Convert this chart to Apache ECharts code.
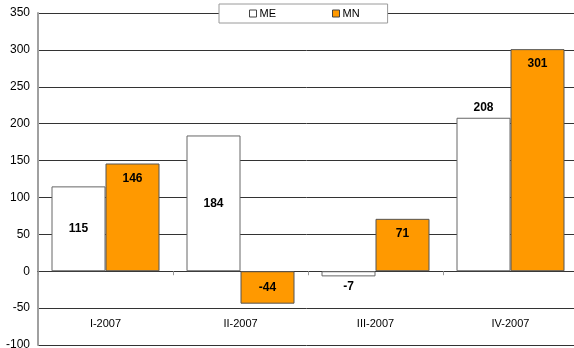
<!DOCTYPE html>
<html>
<head>
<meta charset="utf-8">
<script src="https://cdn.jsdelivr.net/npm/echarts@6/dist/echarts.min.js"></script>
<style>
  html, body { margin: 0; padding: 0; background: #fff; }
  #chart { width: 574px; height: 348px; }
</style>
</head>
<body>
<div id="chart"></div>
<script>
// Quarterly values for the two series
const categories = ['I-2007', 'II-2007', 'III-2007', 'IV-2007'];
const meValues = [115, 184, -7, 208];
const mnValues = [146, -44, 71, 301];
const yTicks = { min: -100, max: 350, step: 50 };

// Where each value label sits relative to its bar
const meLabelPos = ['inside', 'inside', 'bottom', 'top'];
const mnLabelPos = ['insideTop', 'inside', 'insideTop', 'insideTop'];

const font = '"Liberation Sans", Arial, sans-serif';

function toData(values, positions) {
  return values.map((v, i) => ({
    value: v,
    label: { position: positions[i], distance: positions[i] === 'insideTop' ? 9 : 4 }
  }));
}

const chart = echarts.init(document.getElementById('chart'), null, { renderer: 'canvas' });
chart.setOption({
  animation: false,
  backgroundColor: '#ffffff',
  textStyle: { fontFamily: font },
  legend: {
    left: 219,
    top: 4,
    padding: [4, 28, 4, 30],
    itemGap: 56,
    itemWidth: 7,
    itemHeight: 7,
    borderColor: '#9a9a9a',
    borderWidth: 1,
    backgroundColor: '#ffffff',
    textStyle: { fontFamily: font, fontSize: 11, color: '#000', padding: [0, 0, 0, -2] },
    data: [
      { name: 'ME', icon: 'rect', itemStyle: { color: '#ffffff', borderColor: '#444', borderWidth: 1 } },
      { name: 'MN', icon: 'rect', itemStyle: { color: '#ff9900', borderColor: '#444', borderWidth: 1 } }
    ]
  },
  grid: { left: 38, right: -4, top: 13, bottom: 3, containLabel: false, outerBoundsMode: 'none' },
  xAxis: [
    {
      // zero line with category ticks
      type: 'category',
      data: categories,
      axisLine: { onZero: true, lineStyle: { color: '#333', width: 1 } },
      axisTick: { show: true, length: 4, lineStyle: { color: '#999' } },
      axisLabel: { show: false },
      splitLine: { show: false }
    },
    {
      // category names set low, above the bottom edge
      type: 'category',
      data: categories,
      position: 'bottom',
      axisLine: { show: false, onZero: false },
      axisTick: { show: false },
      axisLabel: { inside: true, margin: 16, fontFamily: font, fontSize: 11, color: '#000' },
      splitLine: { show: false }
    }
  ],
  yAxis: {
    type: 'value',
    min: yTicks.min,
    max: yTicks.max,
    interval: yTicks.step,
    axisLine: { show: true, lineStyle: { color: '#a0a0a0', width: 2 } },
    axisTick: { show: false },
    axisLabel: { margin: 8, fontFamily: font, fontSize: 12, color: '#000' },
    splitLine: { show: true, lineStyle: { color: '#333', width: 1 } }
  },
  series: [
    {
      name: 'ME',
      type: 'bar',
      barGap: '0%',
      barCategoryGap: '20%',
      data: toData(meValues, meLabelPos),
      itemStyle: { color: '#ffffff', borderColor: '#666', borderWidth: 1 },
      label: { show: true, fontFamily: font, fontSize: 12, fontWeight: 'bold', color: '#000' }
    },
    {
      name: 'MN',
      type: 'bar',
      barGap: '0%',
      barCategoryGap: '20%',
      data: toData(mnValues, mnLabelPos),
      itemStyle: { color: '#ff9900', borderColor: '#555', borderWidth: 1 },
      label: { show: true, fontFamily: font, fontSize: 12, fontWeight: 'bold', color: '#000' }
    }
  ]
});
</script>
</body>
</html>
